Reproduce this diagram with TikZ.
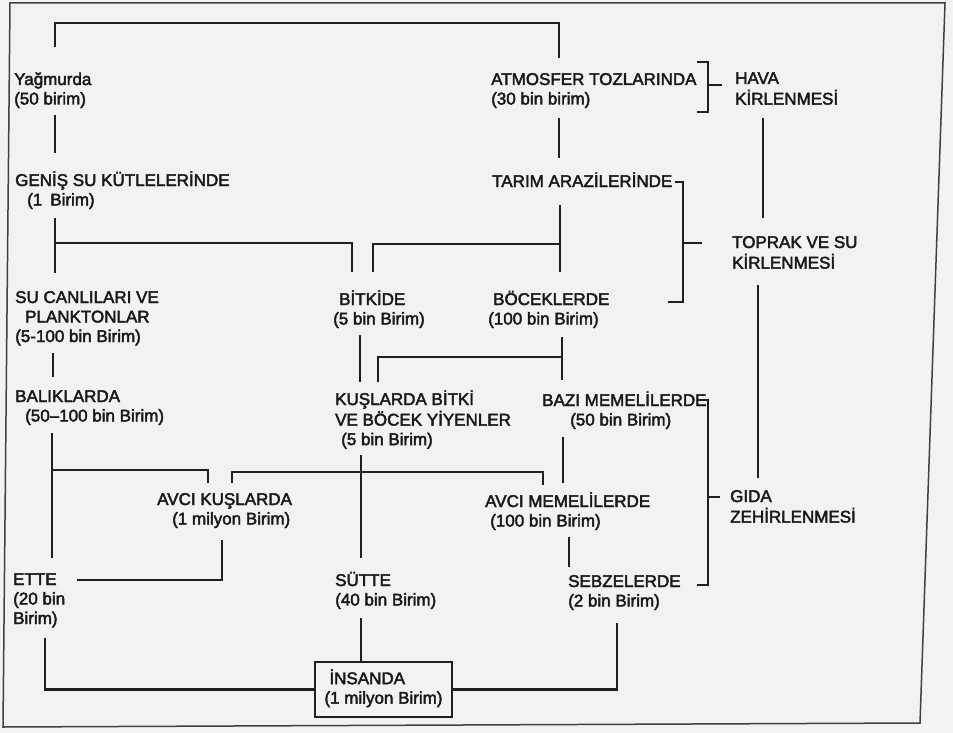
\documentclass[tikz,border=0pt]{standalone}
\usepackage{fontspec}
\newfontfamily\diagfont{Liberation Sans}[FakeBold=2.5]
\usetikzlibrary{calc}
\newcommand{\txtrows}[1]{\begin{tabular}[t]{@{}l@{}}#1\end{tabular}}

\begin{document}
\begin{tikzpicture}[x=1pt, y=-1pt,
    lbl/.style={anchor=base west, inner sep=0pt,
        font=\diagfont\fontsize{17}{19.5}\selectfont, text=black!90},
    link/.style={line width=2.6pt, draw=black!88}]
    % Page and frame
    \fill[black!5] (0,0) rectangle (953,733);
    \useasboundingbox (0,0) rectangle (953,733);
    \draw[line width=1.5pt, black!75] (10,3) -- (945,3) -- (920,723) -- (3,727) -- cycle;

    % Place the labels
    \node[lbl] (yag) at (14,85) {\txtrows{Yağmurda\\(50 birim)}};
    \node[lbl] (atm) at (491,85) {\txtrows{ATMOSFER TOZLARINDA\\(30 bin birim)}};
    \node[lbl] (hava) at (735,84) {\txtrows{HAVA\\KİRLENMESİ}};
    \node[lbl] (gen) at (15,186) {\txtrows{GENİŞ SU KÜTLELERİNDE\\\hspace*{12pt}(1\hspace{8pt}Birim)}};
    \node[lbl] (tar) at (492,187) {TARIM ARAZİLERİNDE};
    \node[lbl] (toprak) at (732,248) {\txtrows{TOPRAK VE SU\\KİRLENMESİ}};
    \node[lbl] (suc) at (15,303) {\txtrows{SU CANLILARI VE\\\hspace*{10pt}PLANKTONLAR\\(5-100 bin Birim)}};
    \node[lbl] (bit) at (333,305) {\txtrows{\hspace*{6pt}BİTKİDE\\(5 bin Birim)}};
    \node[lbl] (boc) at (488,305) {\txtrows{\hspace*{5pt}BÖCEKLERDE\\(100 bin Birim)}};
    \node[lbl] (bal) at (15,402) {\txtrows{BALIKLARDA\\\hspace*{10pt}(50–100 bin Birim)}};
    \node[lbl] (kus) at (335,405) {\txtrows{KUŞLARDA BİTKİ\\VE BÖCEK YİYENLER\\\hspace*{6pt}(5 bin Birim)}};
    \node[lbl] (baz) at (542,406) {\txtrows{BAZI MEMELİLERDE\\\hspace*{28pt}(50 bin Birim)}};
    \node[lbl] (avk) at (157,505) {\txtrows{AVCI KUŞLARDA\\\hspace*{15pt}(1 milyon Birim)}};
    \node[lbl] (avm) at (485,507) {\txtrows{AVCI MEMELİLERDE\\\hspace*{5pt}(100 bin Birim)}};
    \node[lbl] (gida) at (730,502) {\txtrows{GIDA\\ZEHİRLENMESİ}};
    \node[lbl] (ett) at (13,585) {\txtrows{ETTE\\(20 bin\\Birim)}};
    \node[lbl] (sut) at (335,586) {\txtrows{SÜTTE\\(40 bin Birim)}};
    \node[lbl] (seb) at (568,587) {\txtrows{SEBZELERDE\\(2 bin Birim)}};
    \node[lbl, anchor=center, draw=black!88, line width=2.6pt, minimum width=137pt,
        minimum height=55pt] (ins) at (383.5,689.5) {\txtrows{\hspace*{5pt}İNSANDA\\(1 milyon Birim)}};

    % Draw the connections
    \draw[link] ($(yag.base west)+(41,-38)$) -- ++(0,-24) -| ($(atm.base west)+(68,-27)$);
    \draw[link] ($(yag.base west)+(41,30)$) -- ($(gen.base west)+(40,-33)$);
    \draw[link] ($(atm.base west)+(68,33)$) -- ($(tar.base west)+(67,-29)$);
    \draw[link] ($(gen.base west)+(40,32)$) -- ($(suc.base west)+(40,-30)$);
    \draw[link] ($(gen.base west)+(40,57)$) -| ($(bit.base west)+(19,-33)$);
    \draw[link] ($(tar.base west)+(68,18)$) -- ($(boc.base west)+(72,-33)$);
    \draw[link] ($(boc.base west)+(72,-61)$) -| ($(bit.base west)+(40,-33)$);
    \draw[link] ($(suc.base west)+(38,50)$) -- ($(bal.base west)+(38,-25)$);
    \draw[link] ($(bit.base west)+(27,30)$) -- ($(kus.base west)+(25,-23)$);
    \draw[link] ($(boc.base west)+(74,32)$) -- ($(baz.base west)+(20,-26)$);
    \draw[link] ($(boc.base west)+(74,52)$) -| ($(kus.base west)+(43,-23)$);
    \draw[link] ($(bal.base west)+(37,31)$) -- ($(ett.base west)+(39,-27)$);
    \draw[link] ($(bal.base west)+(37,68)$) -| ($(avk.base west)+(51,-22)$);
    \draw[link] ($(kus.base west)+(26,50)$) -- ($(sut.base west)+(26,-28)$);
    \draw[link] ($(avk.base west)+(75,-22)$) -- ++(0,-11) -| ($(avm.base west)+(58,-22)$);
    \draw[link] ($(baz.base west)+(21,31)$) -- ($(avm.base west)+(78,-24)$);
    \draw[link] ($(avk.base west)+(65,35)$) |- ($(ett.base west)+(64,-5)$);
    \draw[link] ($(avm.base west)+(84,30)$) -- ($(seb.base west)+(1,-20)$);
    \draw[link] ($(ett.base west)+(32,53)$) |- (ins.west);
    \draw[link] ($(sut.base west)+(26,32)$) coordinate (sutdown) -- (sutdown |- ins.north);
    \draw[link] ($(seb.base west)+(49,36)$) |- (ins.east);

    % Brackets to the kinds of pollution
    \draw[link] ($(atm.base west)+(206,-23)$) -| ++(11,50) -- ++(-11,0);
    \draw[link] ($(hava.base west)+(-13,1)$) -- ++(-14,0);
    \draw[link] ($(tar.base west)+(183,-5)$) -| ++(8,120) -- ++(-15,0);
    \draw[link] ($(toprak.base west)+(-30,-5)$) -- ++(-19,0);
    \draw[link] ($(baz.base west)+(158,-6)$) -| ++(8,185) -- ++(-11,0);
    \draw[link] ($(gida.base west)+(-10,-5)$) -- ++(-12,0);
    \draw[link] ($(hava.base west)+(28,34)$) -- ($(toprak.base west)+(31,-30)$);
    \draw[link] ($(toprak.base west)+(26,37)$) -- ($(gida.base west)+(28,-24)$);
\end{tikzpicture}
\end{document}
